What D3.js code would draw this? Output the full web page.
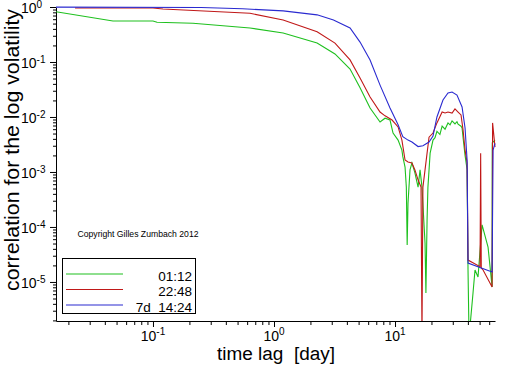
<!DOCTYPE html>
<html><head><meta charset="utf-8">
<script src="https://cdn.jsdelivr.net/npm/d3@7"></script>
<style>
body{margin:0;background:#fff;}
svg{display:block;font-family:"Liberation Sans",Arial,sans-serif;}
</style></head><body>
<svg id="c" width="512" height="366"></svg>
<script>
// ---- data (time lag [day], correlation) ----
const seriesNames = ["01:12", "22:48", "7d  14:24"];
const seriesColors = ["#1ec01e", "#c01818", "#2a2ad0"];

const green = [
  [0.0158,0.82],[0.0467,0.556],[0.1,0.556],[0.108,0.527],[0.214,0.506],[0.633,0.415],
  [1.19,0.337],[2.27,0.221],[3.19,0.14],[4.25,0.0746],[5.14,0.034],[6.22,0.0146],
  [7.52,0.0081],[8.27,0.0095],[9.09,0.0088],[9.63,0.0051],[10.6,0.0038],[11.4,0.0025],
  [11.6,0.0019],[12.1,0.00123],[12.4,0.00053],[12.6,4.7e-5],[12.8,0.00027],[13.3,0.00109],
  [13.8,0.00146],[14.6,0.00096],[15.5,0.00053],[16.1,0.00109],[16.7,0.00053],[17.7,5.1e-5],
  [18.0,6.3e-6],[18.4,0.000134],[18.7,0.00053],[19.5,0.0022],[20.6,0.0038],[21.4,0.0042],
  [22.2,0.0055],[23.5,0.0048],[24.5,0.0068],[25.9,0.006],[27.4,0.0078],[28.5,0.0072],
  [29.6,0.0085],[31.3,0.0075],[32.5,0.0082],[33.2,0.0074],[35.1,0.0068],[35.8,0.0063],
  [36.5,0.0042],[37.9,0.002],[39.4,0.0011],[40.1,1.65e-5],[40.9,1.0e-6],[44.1,6.3e-6],
  [45.8,1.65e-5],[48.5,1.23e-5],[52.4,0.000109],[58.7,4.3e-5],[63.4,8.1e-6],[63.6,0.0034],
  [67.0,0.0038]
];
const red = [
  [0.0227,0.96],[0.1,0.96],[0.121,0.92],[0.633,0.77],[1.19,0.58],[2.27,0.356],[3.19,0.22],
  [4.25,0.109],[5.14,0.051],[6.22,0.023],[7.52,0.0123],[8.27,0.0105],[9.45,0.0088],
  [10.6,0.0066],[11.4,0.0038],[12.1,0.00165],[12.8,0.00152],[13.8,0.00146],[14.6,0.00109],
  [15.5,0.00072],[16.4,0.00053],[16.7,1.0e-6],[17.0,0.00053],[17.7,0.00109],[18.4,0.0022],
  [19.1,0.0043],[20.6,0.0051],[22.2,0.0078],[24.5,0.0123],[25.9,0.0118],[27.4,0.0123],
  [29.6,0.0118],[31.3,0.014],[33.2,0.0123],[35.1,0.0109],[36.5,0.0058],[37.9,0.00251],
  [39.4,0.00146],[40.1,2.5e-5],[50.4,1.9e-5],[51.0,0.0022],[51.6,1.8e-5],[53.4,1.65e-5],
  [63.4,8.1e-6],[64.0,0.0078],[67.0,0.00285]
];
const blue = [
  [0.0158,0.995],[0.25,0.98],[0.55,0.93],[1.19,0.85],[2.27,0.72],[3.1,0.58],[4.25,0.415],
  [5.14,0.23],[6.22,0.109],[7.52,0.038],[9.09,0.0146],[10.6,0.0072],[11.6,0.0044],
  [12.8,0.0038],[13.8,0.0035],[15.5,0.0029],[17.0,0.003],[19.1,0.0035],[20.6,0.0045],
  [22.2,0.01],[24.9,0.0204],[27.4,0.0273],[29.6,0.0285],[32.5,0.0251],[35.8,0.0152],
  [37.9,0.0063],[39.4,0.00165],[40.1,2.2e-5],[63.4,1.52e-5],[64.6,0.00251],[67.0,0.0033]
];
const seriesData = [green, red, blue];

const xMajor = [0.1, 1, 10];
const xExp = ["-1", "0", "1"];
const yMajor = [1, 0.1, 0.01, 0.001, 0.0001, 0.00001];
const yExp = ["0", "-1", "-2", "-3", "-4", "-5"];
const xDomain = [0.0158, 67];
const yDomain = [1.95e-6, 1];

// ---- layout ----
const L = 56, R = 495, T = 7, B = 321;
const svg = d3.select("#c");
const x = d3.scaleLog().domain(xDomain).range([L, R]);
const y = d3.scaleLog().domain(yDomain).range([B, T]);

const isMajor = v => Math.abs(Math.log10(v) - Math.round(Math.log10(v))) < 1e-9;
const xMinor = x.ticks().filter(v => !isMajor(v));
const yMinor = y.ticks().filter(v => !isMajor(v));

// axes
const gx = svg.append("g").attr("transform", `translate(0,${B})`);
gx.call(d3.axisBottom(x).tickValues(xMinor).tickSize(4).tickSizeOuter(0).tickFormat(""));
gx.append("g").call(d3.axisBottom(x).tickValues(xMajor).tickSize(6).tickFormat(""))
  .select(".domain").remove();
const gy = svg.append("g").attr("transform", `translate(${L},0)`);
gy.call(d3.axisLeft(y).tickValues(yMinor).tickSize(3).tickSizeOuter(0).tickFormat(""));
gy.append("g").call(d3.axisLeft(y).tickValues(yMajor).tickSize(6).tickFormat(""))
  .select(".domain").remove();
svg.selectAll(".domain, .tick line").attr("stroke", "#000").attr("stroke-width", 1);

// tick labels
yMajor.forEach((v, i) => {
  const t = svg.append("text").attr("x", 21).attr("y", y(v) + 6).attr("fill", "#000");
  t.append("tspan").attr("font-size", 14).text("10");
  t.append("tspan").attr("font-size", 10).attr("dy", -5).text(yExp[i]);
});
xMajor.forEach((v, i) => {
  const t = svg.append("text").attr("x", x(v)).attr("y", 341)
    .attr("text-anchor", "middle").attr("fill", "#000");
  t.append("tspan").attr("font-size", 14).text("10");
  t.append("tspan").attr("font-size", 10).attr("dy", -6).text(xExp[i]);
});

// axis titles
svg.append("text").attr("x", 276).attr("y", 360).attr("text-anchor", "middle")
  .attr("font-size", 18).attr("xml:space", "preserve").style("white-space", "pre")
  .attr("textLength", 118).attr("lengthAdjust", "spacingAndGlyphs")
  .text("time lag  [day]");
svg.append("text").attr("transform", "translate(19,150) rotate(-90)")
  .attr("text-anchor", "middle").attr("font-size", 21)
  .attr("textLength", 282).attr("lengthAdjust", "spacingAndGlyphs")
  .text("correlation for the log volatility");

// lines
svg.append("clipPath").attr("id", "clip").append("rect")
  .attr("x", L).attr("y", T - 1).attr("width", R - L + 1).attr("height", B - T + 1);
const line = d3.line().x(d => x(d[0])).y(d => y(d[1]));
const gl = svg.append("g").attr("clip-path", "url(#clip)");
seriesData.forEach((s, i) => {
  gl.append("path").datum(s).attr("d", line).attr("fill", "none")
    .attr("stroke", seriesColors[i]).attr("stroke-width", 1.1);
});

// copyright
svg.append("text").attr("x", 77.5).attr("y", 237).attr("font-size", 9)
  .attr("textLength", 121).attr("lengthAdjust", "spacingAndGlyphs")
  .text("Copyright Gilles Zumbach 2012");

// legend
const lg = svg.append("g");
lg.append("rect").attr("x", 62.5).attr("y", 258.5).attr("width", 133).attr("height", 55)
  .attr("fill", "#fff").attr("stroke", "#000");
seriesNames.forEach((n, i) => {
  const yy = 274 + i * 15.5;
  lg.append("line").attr("x1", 66).attr("x2", 123).attr("y1", yy).attr("y2", yy)
    .attr("stroke", seriesColors[i]).attr("stroke-width", 1.1);
  lg.append("text").attr("x", 192).attr("y", yy + 6.5).attr("text-anchor", "end")
    .attr("font-size", 13.5).attr("xml:space", "preserve").style("white-space", "pre")
    .text(n);
});
</script>
</body></html>
